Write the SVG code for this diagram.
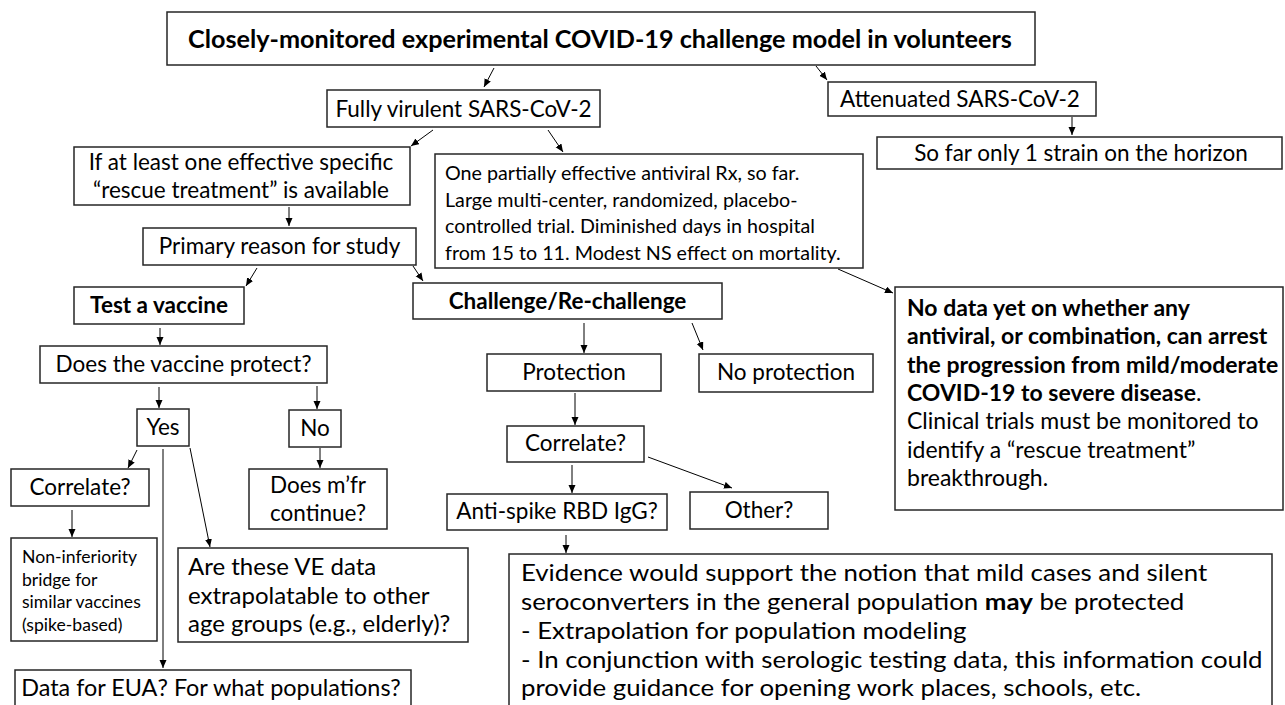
<svg xmlns="http://www.w3.org/2000/svg" width="1285" height="705" viewBox="0 0 1285 705">
<style>
  .box { fill: #fff; stroke: #262626; stroke-width: 1.5; }
  .t { font-family: Lato, "Liberation Sans", sans-serif; font-size: 22.5px; fill: #000; }
  .c { text-anchor: middle; }
  .b { font-weight: bold; }
  .ttl { font-size: 25.2px; }
  .sm { font-size: 19.7px; }
  .xs { font-size: 17.6px; }
  .md { font-size: 23px; }
  .ve { font-size: 24px; }
  .ev { font-size: 23.6px; }
  .con line { stroke: #000; stroke-width: 1; marker-end: url(#ah); }
</style>
<defs>
  <marker id="ah" markerUnits="userSpaceOnUse" markerWidth="9" markerHeight="8" refX="8" refY="3.5" orient="auto">
    <path d="M0,0 L8,3.5 L0,7 z" fill="#000"/>
  </marker>
</defs>
<rect width="1285" height="705" fill="#fff"/>

<g id="connectors" class="con">
  <line x1="494" y1="68" x2="484" y2="87"/>
  <line x1="816" y1="66" x2="827" y2="80"/>
  <line x1="1072" y1="117" x2="1072" y2="135"/>
  <line x1="433" y1="130" x2="411" y2="146"/>
  <line x1="548" y1="130" x2="563" y2="152"/>
  <line x1="838" y1="269" x2="893" y2="293"/>
  <line x1="289" y1="207" x2="289" y2="226"/>
  <line x1="257" y1="268" x2="246" y2="286"/>
  <line x1="413" y1="266" x2="423" y2="281"/>
  <line x1="160" y1="328" x2="160" y2="345"/>
  <line x1="159" y1="387" x2="159" y2="408"/>
  <line x1="317" y1="386" x2="317" y2="409"/>
  <line x1="137" y1="450" x2="128" y2="468"/>
  <line x1="163" y1="449" x2="163" y2="668"/>
  <line x1="190" y1="448" x2="210" y2="547"/>
  <line x1="72" y1="510" x2="72" y2="537"/>
  <line x1="320" y1="448" x2="320" y2="468"/>
  <line x1="584" y1="323" x2="584" y2="353"/>
  <line x1="692" y1="323" x2="703" y2="350"/>
  <line x1="575" y1="393" x2="575" y2="425"/>
  <line x1="572" y1="465" x2="572" y2="493"/>
  <line x1="648" y1="457" x2="732" y2="488"/>
  <line x1="566" y1="535" x2="566" y2="553"/>
</g>

<g id="title">
  <rect class="box" x="167" y="12" width="868" height="53"/>
  <text class="t b c ttl" x="600" y="48">Closely-monitored experimental COVID-19 challenge model in volunteers</text>
</g>
<g id="fully-virulent">
  <rect class="box" x="327" y="90" width="273" height="37"/>
  <text class="t c" x="463.5" y="117">Fully virulent SARS-CoV-2</text>
</g>
<g id="attenuated">
  <rect class="box" x="828" y="82" width="268" height="34"/>
  <text class="t c" x="960" y="107">Attenuated SARS-CoV-2</text>
</g>
<g id="one-strain">
  <rect class="box" x="877" y="137" width="405" height="32"/>
  <text class="t c" x="1081" y="161">So far only 1 strain on the horizon</text>
</g>
<g id="rescue-available">
  <rect class="box" x="74" y="147" width="336" height="58"/>
  <text class="t c" x="241" y="170">If at least one effective specific</text>
  <text class="t c" x="241" y="198">“rescue treatment” is available</text>
</g>
<g id="partial-antiviral">
  <rect class="box" x="435" y="154" width="428" height="114"/>
  <text class="t sm" x="445" y="180">One partially effective antiviral Rx, so far.</text>
  <text class="t sm" x="445" y="206.5">Large multi-center, randomized, placebo-</text>
  <text class="t sm" x="445" y="233">controlled trial. Diminished days in hospital</text>
  <text class="t sm" x="445" y="259.5">from 15 to 11. Modest NS effect on mortality.</text>
</g>
<g id="primary-reason">
  <rect class="box" x="143" y="228" width="273" height="37"/>
  <text class="t c" x="279.5" y="254">Primary reason for study</text>
</g>
<g id="test-vaccine">
  <rect class="box" x="74" y="287" width="170" height="37"/>
  <text class="t b c" x="159" y="313">Test a vaccine</text>
</g>
<g id="vaccine-protect">
  <rect class="box" x="40" y="346" width="287" height="37"/>
  <text class="t c" x="183.5" y="372">Does the vaccine protect?</text>
</g>
<g id="yes">
  <rect class="box" x="137" y="409" width="52" height="37"/>
  <text class="t c" x="163" y="435">Yes</text>
</g>
<g id="no">
  <rect class="box" x="289" y="410" width="52" height="37"/>
  <text class="t c" x="315" y="436">No</text>
</g>
<g id="correlate-left">
  <rect class="box" x="11" y="469" width="138" height="37"/>
  <text class="t c" x="80" y="495">Correlate?</text>
</g>
<g id="non-inferiority">
  <rect class="box" x="11" y="538" width="146" height="103"/>
  <text class="t xs" x="22" y="563">Non-inferiority</text>
  <text class="t xs" x="22" y="585.7">bridge for</text>
  <text class="t xs" x="22" y="608.4">similar vaccines</text>
  <text class="t xs" x="22" y="631">(spike-based)</text>
</g>
<g id="mfr-continue">
  <rect class="box" x="249" y="469" width="138" height="60"/>
  <text class="t c" x="318" y="493">Does m’fr</text>
  <text class="t c" x="318" y="521">continue?</text>
</g>
<g id="ve-extrapolatable">
  <rect class="box" x="178" y="548" width="290" height="94"/>
  <text class="t ve" x="188" y="575">Are these VE data</text>
  <text class="t ve" x="188" y="603.5">extrapolatable to other</text>
  <text class="t ve" x="188" y="632">age groups (e.g., elderly)?</text>
</g>
<g id="eua">
  <rect class="box" x="15" y="670" width="396" height="40"/>
  <text class="t c" x="211" y="696" style="font-size:23.4px">Data for EUA? For what populations?</text>
</g>
<g id="challenge">
  <rect class="box" x="413" y="283" width="309" height="36"/>
  <text class="t b c" x="567.5" y="309">Challenge/Re-challenge</text>
</g>
<g id="protection">
  <rect class="box" x="487" y="354" width="174" height="37"/>
  <text class="t c" x="574" y="380">Protection</text>
</g>
<g id="no-protection">
  <rect class="box" x="699" y="354" width="174" height="38"/>
  <text class="t c" x="786" y="380">No protection</text>
</g>
<g id="correlate-right">
  <rect class="box" x="507" y="426" width="137" height="36"/>
  <text class="t c" x="575.5" y="451">Correlate?</text>
</g>
<g id="anti-spike">
  <rect class="box" x="447" y="494" width="220" height="36"/>
  <text class="t c" x="557" y="519">Anti-spike RBD IgG?</text>
</g>
<g id="other">
  <rect class="box" x="690" y="492" width="138" height="37"/>
  <text class="t c" x="759" y="518">Other?</text>
</g>
<g id="evidence">
  <rect class="box" x="509" y="554" width="763" height="160"/>
  <g transform="matrix(1.094 0 0 1 -48.97 0)">
    <text class="t ev" x="521" y="581.5">Evidence would support the notion that mild cases and silent</text>
    <text class="t ev" x="521" y="610.2">seroconverters in the general population <tspan class="b">may</tspan> be protected</text>
    <text class="t ev" x="521" y="638.9">- Extrapolation for population modeling</text>
    <text class="t ev" x="521" y="667.6">- In conjunction with serologic testing data, this information could</text>
    <text class="t ev" x="521" y="696.3">provide guidance for opening work places, schools, etc.</text>
  </g>
</g>
<g id="no-data">
  <rect class="box" x="895" y="287" width="388" height="223"/>
  <text class="t md b" x="907" y="316">No data yet on whether any</text>
  <text class="t md b" x="907" y="344.3">antiviral, or combination, can arrest</text>
  <text class="t md b" x="907" y="372.6">the progression from mild/moderate</text>
  <text class="t md" x="907" y="400.9"><tspan class="b">COVID-19 to severe disease</tspan>.</text>
  <text class="t md" x="907" y="429.2">Clinical trials must be monitored to</text>
  <text class="t md" x="907" y="457.5">identify a “rescue treatment”</text>
  <text class="t md" x="907" y="485.8">breakthrough.</text>
</g>
</svg>
